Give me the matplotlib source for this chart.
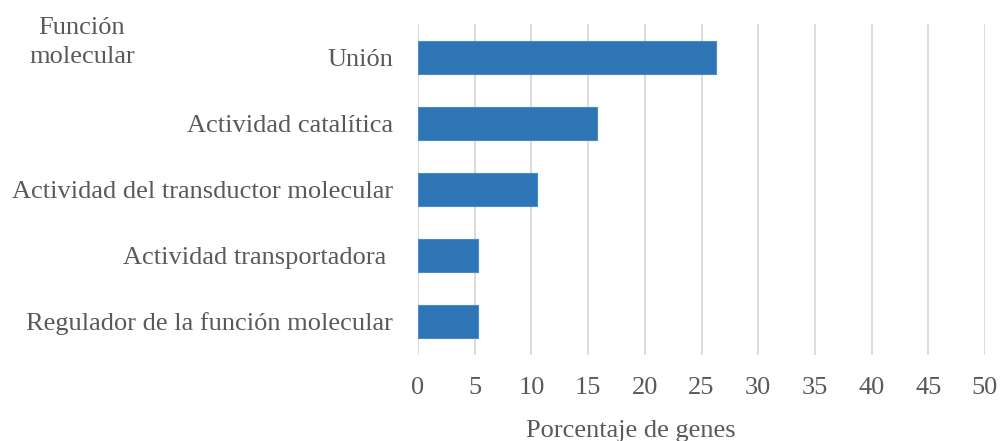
import matplotlib
matplotlib.use("Agg")
import matplotlib.pyplot as plt

categorias = [
    "Unión",
    "Actividad catalítica",
    "Actividad del transductor molecular",
    "Actividad transportadora ",
    "Regulador de la función molecular",
]
porcentajes = [26.3, 15.8, 10.5, 5.3, 5.3]
ticks_x = [0, 5, 10, 15, 20, 25, 30, 35, 40, 45, 50]

plt.rcParams["font.family"] = ["Liberation Serif", "DejaVu Serif"]
gris = "#595959"
tam = 19

fig = plt.figure(figsize=(10, 4.41), dpi=100)
ax = fig.add_axes([0.418, 0.196, 0.567, 0.7496])

pos = list(range(len(categorias)))
ax.barh(pos, porcentajes, height=0.5, color="#2E75B6", edgecolor="#4A8AC6",
        linewidth=0.8, zorder=3)
ax.set_ylim(len(categorias) - 0.5, -0.5)
ax.set_xlim(0, 50)
ax.set_yticks(pos)
ax.set_yticklabels(categorias, fontsize=tam, color=gris)
ax.set_xticks(ticks_x)
ax.set_xticklabels([str(t) for t in ticks_x], fontsize=tam, color=gris)
ax.tick_params(axis="y", length=0, pad=18)
ax.tick_params(axis="x", length=0, pad=16)
ax.grid(axis="x", color="#D9D9D9", linewidth=1.3, zorder=0)
ax.set_axisbelow(True)
for s in ax.spines.values():
    s.set_visible(False)

ax.set_xlabel("Porcentaje de genes", fontsize=tam, color=gris)
ax.xaxis.set_label_coords(0.3746, -0.2495)
ax.xaxis.label.set_va("baseline")

fig.text(0.082, 0.9229, "Función", fontsize=tam, color=gris,
         ha="center", va="baseline")
fig.text(0.082, 0.857, "molecular", fontsize=tam, color=gris,
         ha="center", va="baseline")

fig.savefig("out.png", dpi=100)
